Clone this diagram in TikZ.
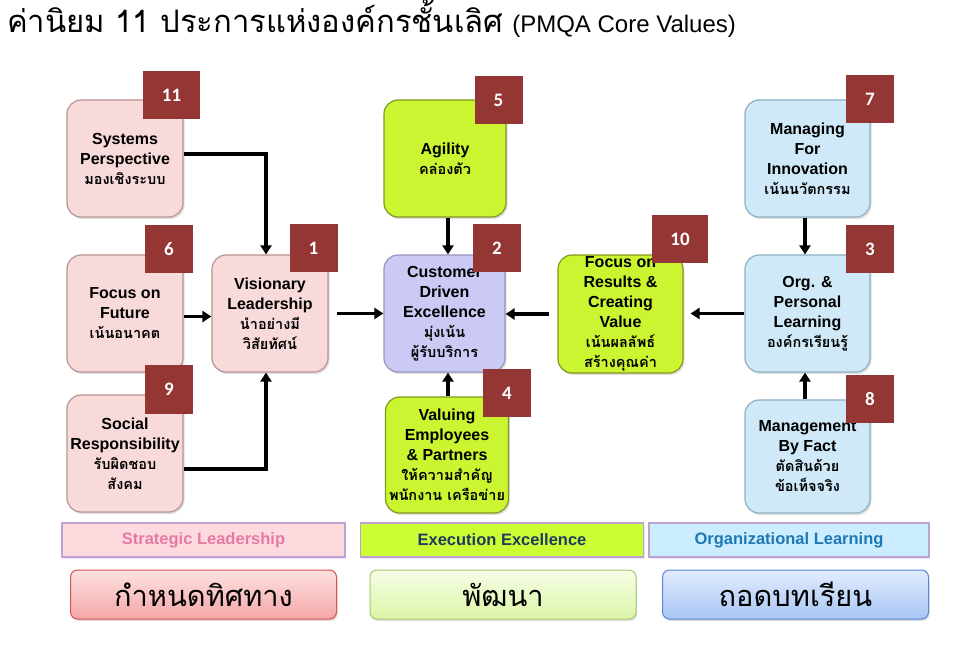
\documentclass[tikz,border=0pt]{standalone}
\usepackage{fontspec}
\setmainfont{Liberation Sans}
\newfontfamily\thaifont[Script=Thai]{Loma}
\newfontfamily\badgefont{Carlito}
\usetikzlibrary{arrows.meta,shadows}
\definecolor{pinkfill}{HTML}{F9DADA}
\definecolor{pinkdraw}{HTML}{B89494}
\definecolor{limefill}{HTML}{CCF531}
\definecolor{limedraw}{HTML}{7F9A22}
\definecolor{lavfill}{HTML}{CACAF5}
\definecolor{lavdraw}{HTML}{9494C0}
\definecolor{bluefill}{HTML}{CFE9F8}
\definecolor{bluedraw}{HTML}{8EAFC4}
\definecolor{badgecol}{HTML}{943634}
\definecolor{bandpink}{HTML}{FDDADD}
\definecolor{bandlime}{HTML}{CCFF33}
\definecolor{bandblue}{HTML}{CCEDFF}
\definecolor{bandedge}{HTML}{BCA2D2}
\definecolor{txtpink}{HTML}{E67AA6}
\definecolor{txtnavy}{HTML}{1F3A5F}
\definecolor{txtblue}{HTML}{1E78B4}
\definecolor{redtop}{HTML}{FDE2E2}
\definecolor{redbot}{HTML}{F6A6A6}
\definecolor{rededge}{HTML}{D95050}
\definecolor{grntop}{HTML}{F5FFE6}
\definecolor{grnbot}{HTML}{DDF5A8}
\definecolor{grnedge}{HTML}{A8C870}
\definecolor{blutop}{HTML}{E2ECFF}
\definecolor{blubot}{HTML}{A9C6F5}
\definecolor{bluedge}{HTML}{5A86D8}
\newcommand{\thl}[1]{{\thaifont\bfseries\fontsize{14.5}{20}\selectfont #1}}
\tikzset{
  card/.style={rounded corners=14pt, line width=1.2pt, align=center, inner sep=0pt,
    font=\bfseries\fontsize{16}{20}\selectfont,
    drop shadow={opacity=0.25, shadow xshift=1.5pt, shadow yshift=-2pt}},
  pinkcard/.style={card, fill=pinkfill, draw=pinkdraw},
  limecard/.style={card, fill=limefill, draw=limedraw},
  lavcard/.style={card, fill=lavfill, draw=lavdraw},
  bluecard/.style={card, fill=bluefill, draw=bluedraw},
  badge/.style={fill=badgecol, text=white, minimum width=48pt, minimum height=48pt,
    inner sep=0pt, font=\badgefont\bfseries\fontsize{19}{19}\selectfont},
  arr/.style={line width=3.2pt, -{Triangle[length=9pt,width=11pt]}},
  band/.style={minimum height=34pt, inner sep=0pt, draw=bandedge, line width=1.5pt,
    font=\bfseries\fontsize{16.5}{16.5}\selectfont,
    drop shadow={opacity=0.3, shadow xshift=1pt, shadow yshift=-2pt, fill=bandedge}},
  button/.style={rounded corners=7pt, minimum width=266pt, minimum height=49pt, inner sep=0pt,
    line width=1pt, font=\thaifont\fontsize{29}{29}\selectfont,
    drop shadow={opacity=0.25, shadow xshift=1pt, shadow yshift=-2pt}}
}
\begin{document}
\begin{tikzpicture}[x=1pt,y=-1pt]
\useasboundingbox (0,0) rectangle (975,668);
\fill[white] (0,0) rectangle (975,668);

% title
\node[anchor=base west, inner sep=0pt] (title) at (7,33)
  {{\thaifont\fontsize{31}{31}\selectfont ค่านิยม 11 ประการแห่งองค์กรชั้นเลิศ}\hspace{9pt}{\fontsize{24}{24}\selectfont (PMQA Core Values)}};

% cards
\node[pinkcard, minimum width=116pt, minimum height=117pt] (sys) at (125,158.5)
  {Systems\\Perspective\\\thl{มองเชิงระบบ}};
\node[pinkcard, minimum width=116pt, minimum height=117pt] (fut) at (125,313.5)
  {Focus on\\Future\\\thl{เน้นอนาคต}};
\node[pinkcard, minimum width=116pt, minimum height=117pt] (soc) at (125,453.5)
  {Social\\Responsibility\\\thl{รับผิดชอบ}\\\thl{สังคม}};
\node[pinkcard, minimum width=116pt, minimum height=117pt] (vis) at (270,313.5)
  {Visionary\\Leadership\\\thl{นำอย่างมี}\\\thl{วิสัยทัศน์}};
\node[limecard, minimum width=122pt, minimum height=117pt] (agi) at (445,158.5)
  {Agility\\\thl{คล่องตัว}};
\node[lavcard, minimum width=121pt, minimum height=117pt] (cust) at (444.5,313.5)
  {Customer\\Driven\\Excellence\\\thl{มุ่งเน้น}\\\thl{ผู้รับบริการ}};
\node[limecard, minimum width=123pt, minimum height=116pt] (val) at (447,455)
  {Valuing\\Employees\\\& Partners\\\thl{ให้ความสำคัญ}\\\thl{พนักงาน เครือข่าย}};
\node[limecard, minimum width=125pt, minimum height=118pt] (res) at (620.5,314)
  {Focus on\\Results \&\\Creating\\Value\\\thl{เน้นผลลัพธ์}\\\thl{สร้างคุณค่า}};
\node[bluecard, minimum width=125pt, minimum height=117pt] (inn) at (807.5,158.5)
  {Managing\\For\\Innovation\\\thl{เน้นนวัตกรรม}};
\node[bluecard, minimum width=125pt, minimum height=117pt] (org) at (807.5,313.5)
  {Org. \&\\Personal\\Learning\\\thl{องค์กรเรียนรู้}};
\node[bluecard, minimum width=125pt, minimum height=113pt] (fact) at (807.5,456.5)
  {Management\\By Fact\\\thl{ตัดสินด้วย}\\\thl{ข้อเท็จจริง}};

% badges
\node[badge, minimum width=57pt] (b11) at (171.5,95.5) {11};
\node[badge] (b6) at (169,249.5) {6};
\node[badge] (b9) at (169,389.5) {9};
\node[badge] (b1) at (313.5,248) {1};
\node[badge] (b5) at (498.5,100) {5};
\node[badge] (b2) at (497,248) {2};
\node[badge] (b4) at (507,393) {4};
\node[badge, minimum width=56pt] (b10) at (680,239.5) {10};
\node[badge] (b7) at (870,99) {7};
\node[badge] (b3) at (870,249) {3};
\node[badge] (b8) at (870,399) {8};

% connectors
\draw[arr] ([yshift=4.5pt]sys.east) -| ([xshift=-4pt]vis.north);
\draw[arr] ([yshift=-3pt]fut.east) -- ([yshift=-3pt]vis.west);
\draw[arr] ([yshift=-15.5pt]soc.east) -| ([xshift=-4pt]vis.south);
\draw[arr] ([xshift=8pt]vis.east) -- (cust.west);
\draw[arr] ([xshift=3pt]agi.south) -- ([xshift=3.5pt]cust.north);
\draw[arr] ([xshift=1pt]val.north) -- ([xshift=3.5pt]cust.south);
\draw[arr] ([xshift=-8pt]res.west) -- (res.west -| cust.east);
\draw[arr] (org.west) -- ([xshift=7pt]org.west -| res.east);
\draw[arr] ([xshift=-2.5pt]inn.south) -- ([xshift=-2.5pt]org.north);
\draw[arr] ([xshift=-2.5pt]fact.north) -- ([xshift=-2.5pt]org.south);

% bands
\node[band, fill=bandpink, text=txtpink, minimum width=283pt] (sl) at (203.5,540) {Strategic Leadership};
\node[band, fill=bandlime, text=txtnavy, minimum width=283pt] (ee) at (502,540) {Execution Excellence};
\node[band, fill=bandblue, text=txtblue, minimum width=280pt] (ol) at (789,540) {Organizational Learning};

% buttons
\node[button, top color=redtop, bottom color=redbot, draw=rededge] (d1) at (203.5,594.5) {กำหนดทิศทาง};
\node[button, top color=grntop, bottom color=grnbot, draw=grnedge] (d2) at (503,594.5) {พัฒนา};
\node[button, top color=blutop, bottom color=blubot, draw=bluedge] (d3) at (795.5,594.5) {ถอดบทเรียน};
\end{tikzpicture}
\end{document}
